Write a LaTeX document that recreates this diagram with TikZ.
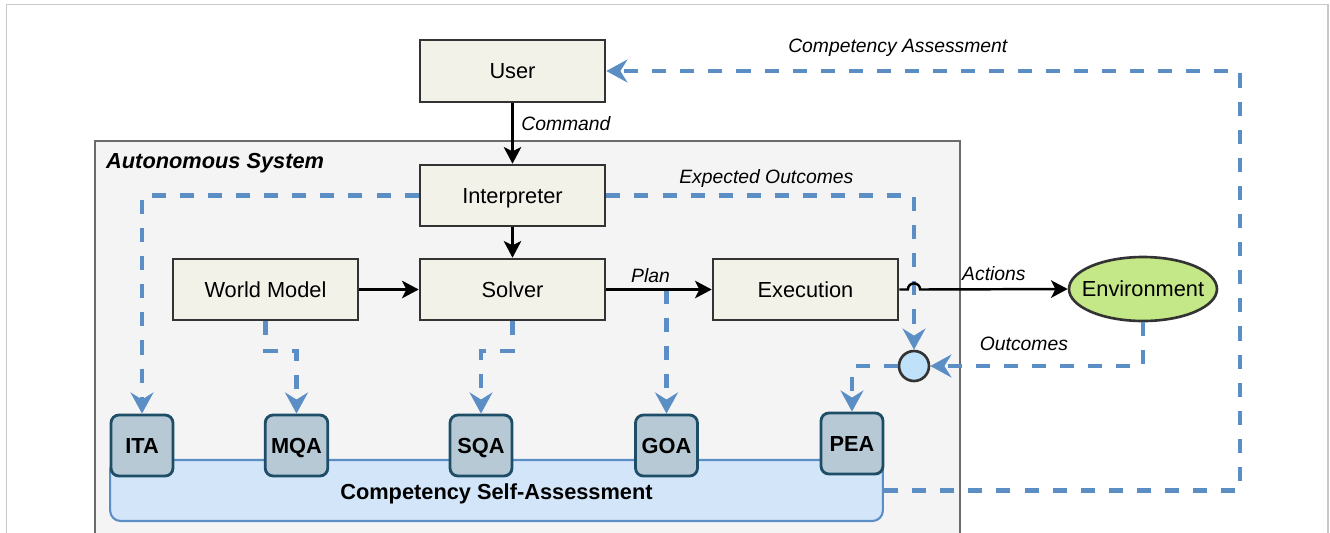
\documentclass[tikz,border=0pt]{standalone}
\usepackage{fontspec}
\setmainfont{Liberation Sans}
\usetikzlibrary{arrows.meta,shapes.geometric}

\definecolor{boxfill}{HTML}{F3F2E9}
\definecolor{boxline}{HTML}{333333}
\definecolor{sysfill}{HTML}{F4F4F4}
\definecolor{sysline}{HTML}{6B6B6B}
\definecolor{envfill}{HTML}{C4E887}
\definecolor{assessblue}{HTML}{5B8EC4}
\definecolor{csafill}{HTML}{D3E6F9}
\definecolor{modfill}{HTML}{B6C9D4}
\definecolor{modline}{HTML}{1E4D67}
\definecolor{juncfill}{HTML}{BFE1F9}
\definecolor{framegray}{HTML}{C8C8C8}

\tikzset{
  block/.style={draw=boxline, line width=1.5pt, fill=boxfill, text height=9pt, text depth=0pt,
    minimum width=3.7cm, minimum height=1.22cm, font=\fontsize{12.4}{15}\selectfont},
  module/.style={draw=modline, line width=1.6pt, fill=modfill, rounded corners=4.5pt,
    text height=9pt, text depth=0pt,
    minimum width=1.24cm, minimum height=1.22cm, font=\fontsize{12.4}{15}\selectfont\bfseries},
  flow/.style={line width=1.4pt, -{Stealth[length=9.5pt,width=10pt,inset=2.5pt]}},
  assess/.style={assessblue, line width=2.3pt, dash pattern=on 8pt off 8pt,
    -{Stealth[length=12pt,width=13pt,inset=4pt]}},
  tag/.style={text=black, font=\fontsize{11}{13}\selectfont\itshape},
}

\begin{document}
\begin{tikzpicture}[x=0.02cm,y=-0.02cm]
  \clip (0,0) rectangle (1330,532);
  \fill[white] (0,0) rectangle (1330,532);
  \draw[framegray, line width=0.8pt] (6.5,540) -- (6.5,4.5) -- (1328,4.5) -- (1328,540);

  % system boundary, runs off the bottom edge
  \node[draw=sysline, line width=1.5pt, fill=sysfill, minimum width=17.3cm,
    minimum height=8.38cm] (system) at (527.5,350.5) {};
  \node[anchor=west, font=\fontsize{12.4}{15}\selectfont\bfseries\itshape] (systitle)
    at (100,163) {Autonomous System};

  % self-assessment strip with its modules
  \node[draw=assessblue, line width=1.2pt, fill=csafill, rounded corners=6pt,
    minimum width=15.46cm, minimum height=1.22cm, text height=10.6pt, text depth=0pt,
    font=\fontsize{12.4}{15}\selectfont\bfseries] (csa) at (496.5,490.5)
    {Competency Self-Assessment};
  \node[module] (ita) at (142,445.5) {ITA};
  \node[module] (mqa) at (296.5,445.5) {MQA};
  \node[module] (sqa) at (481,445.5) {SQA};
  \node[module] (goa) at (666.5,445.5) {GOA};
  \node[module] (pea) at (852,443.5) {PEA};

  % main blocks
  \node[block, minimum height=1.24cm] (user) at (512.5,71) {User};
  \node[block] (interp) at (512.5,195.5) {Interpreter};
  \node[block] (world) at (265.5,289.5) {World Model};
  \node[block] (solver) at (512.5,289.5) {Solver};
  \node[block] (exec) at (805.5,289.5) {Execution};
  \node[ellipse, draw=boxline, line width=1.5pt, fill=envfill, minimum width=2.96cm,
    minimum height=1.28cm, inner sep=0pt,
    label={[font=\fontsize{12.4}{15}\selectfont]center:Environment}] (env) at (1143,289) {};
  \node[circle, draw=boxline, line width=1.5pt, fill=juncfill, minimum size=0.6cm,
    inner sep=0pt] (junc) at (914,366) {};

  \coordinate (plantap) at (goa.north |- solver.east);
  \coordinate (xing) at (junc.north |- exec.east);
  \coordinate (rail) at (1240,71);

  % assessment feeds (dashed)
  \draw[assess] (interp.west) -| (ita.north);
  \draw[assess] (interp.east) -| (junc.north)
    node[pos=0.26, above, tag] {Expected Outcomes};
  \draw[assess] (world.south) -- ++(0,30) -| (mqa.north);
  \draw[assess] (solver.south) -- ++(0,30) -| (sqa.north);
  \draw[assess] (plantap) -- (goa.north);
  \draw[assess] (env.south) |- (junc.east)
    node[pos=0.78, above=4pt, tag] {Outcomes};
  \draw[assess] (junc.west) -| (pea.north);
  \draw[assess] (csa.east) -| (rail) -- (user.east)
    node[pos=0.54, above=3.5pt, tag] {Competency Assessment};

  % control flow
  \draw[flow] (user) -- (interp) node[pos=0.33, right=1pt, tag] {Command};
  \draw[flow] (interp) -- (solver);
  \draw[flow] (world) -- (solver);
  \draw[flow] (solver) -- (exec) node[pos=0.42, above, tag] {Plan};
  \draw[flow] (exec.east) -- ([xshift=-3.5pt]xing) arc[start angle=180, end angle=0, radius=3.5pt]
    -- (env.west) node[midway, above=1pt, tag] {Actions};
\end{tikzpicture}
\end{document}
